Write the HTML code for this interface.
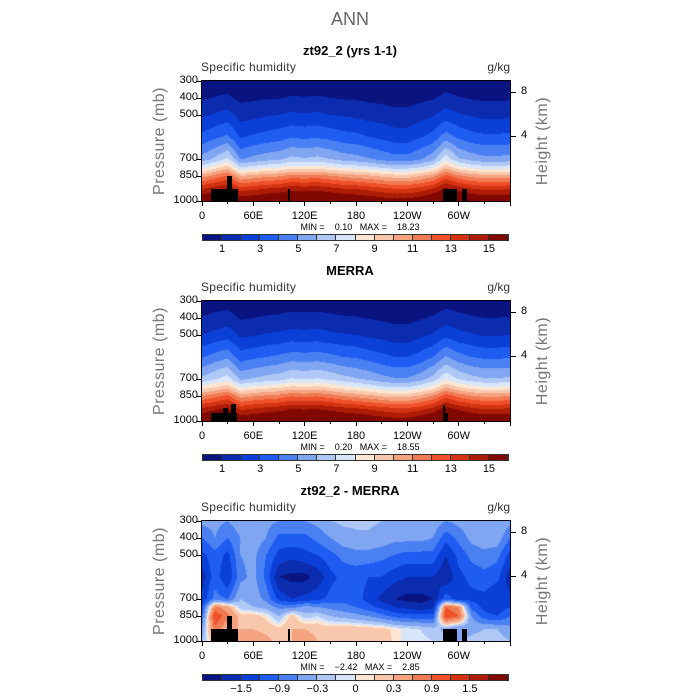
<!DOCTYPE html>
<html><head><meta charset="utf-8"><style>
body{margin:0;background:#fff;}
#root{position:relative;width:700px;height:700px;overflow:hidden;font-family:"Liberation Sans",sans-serif;color:#000;}
.t{position:absolute;white-space:nowrap;}
canvas{position:absolute;}
</style></head><body>
<div id="root">
<div class="t" style="left:0;width:700px;top:9px;text-align:center;font-size:18px;color:#666;">ANN</div>
</div>
<script>
// ---- data ----
const lons = [0,15,30,45,60,75,90,105,120,135,150,165,180,195,210,225,240,255,270,285,300,315,330,345,360];
const levels = [300,400,500,600,700,775,850,925,1000];
const model300 = [0.33,0.4,0.45,0.27,0.31,0.34,0.36,0.41,0.4,0.41,0.38,0.34,0.33,0.29,0.26,0.22,0.22,0.27,0.34,0.48,0.4,0.34,0.31,0.31,0.33];
const model400 = [0.88,1.05,1.17,0.75,0.83,0.92,0.96,1.09,1.05,1.09,1,0.92,0.88,0.79,0.71,0.62,0.62,0.75,0.92,1.26,1.05,0.92,0.83,0.83,0.88];
const model500 = [1.8,2.1,2.4,1.6,1.7,1.9,2,2.2,2.1,2.2,2,1.9,1.8,1.6,1.5,1.3,1.3,1.6,1.9,2.5,2.1,1.9,1.7,1.7,1.8];
const model600 = [3.3,3.8,4.2,2.9,3.2,3.4,3.6,3.9,3.8,3.9,3.7,3.4,3.3,3.0,2.8,2.5,2.5,2.9,3.4,4.5,3.8,3.4,3.2,3.2,3.3];
const model700 = [5.4,6.2,7.2,4.9,5.3,5.6,5.8,6.3,6.1,6.3,6.0,5.6,5.4,5.1,4.7,4.4,4.4,4.9,5.6,7.6,6.1,5.6,5.3,5.3,5.4];
const model775 = [7.4,8.4,9.4,6.9,7.3,7.6,7.8,8.4,8.2,8.4,8.0,7.6,7.4,7.1,6.7,6.4,6.4,6.9,7.6,9.6,8.2,7.6,7.3,7.3,7.4];
const model850 = [10.5,11.4,12.2,10.0,10.4,10.7,10.9,11.5,11.3,11.5,11.1,10.7,10.5,10.2,9.8,9.5,9.5,10.0,10.7,12.4,11.3,10.7,10.4,10.4,10.5];
const model925 = [14,14.6,15,13.5,13.8,14.1,14.3,14.7,14.6,14.7,14.4,14.1,14,13.7,13.4,13.1,13.1,13.5,14.1,15.3,14.6,14.1,13.8,13.8,14];
const model1000 = [16.2,16.7,17.1,15.9,16.1,16.4,16.5,16.9,16.7,16.9,16.6,16.4,16.2,16,15.7,15.5,15.5,15.9,16.4,17.4,16.7,16.4,16.1,16.1,16.2];

const obs300 = [0.4,0.48,0.54,0.33,0.37,0.41,0.43,0.49,0.48,0.49,0.46,0.41,0.4,0.35,0.31,0.26,0.26,0.33,0.41,0.58,0.48,0.41,0.37,0.37,0.4];
const obs400 = [1.06,1.26,1.4,0.9,1.0,1.1,1.15,1.31,1.26,1.31,1.2,1.1,1.06,0.95,0.85,0.74,0.74,0.9,1.1,1.5,1.26,1.1,1.0,1.0,1.06];
const obs500 = [2.0,2.3,2.6,1.8,1.9,2.1,2.2,2.4,2.3,2.4,2.2,2.1,2.0,1.8,1.65,1.45,1.45,1.75,2.1,2.75,2.3,2.1,1.9,1.9,2.0];
const obs600 = [3.9,4.4,4.8,3.5,3.8,4.0,4.2,4.5,4.4,4.5,4.3,4.0,3.9,3.6,3.3,3.0,3.0,3.4,4.0,5.1,4.4,4.0,3.8,3.8,3.9];
const obs700 = [6.2,6.9,7.5,5.8,6.1,6.4,6.6,7.1,6.9,7.1,6.8,6.4,6.1,5.8,5.4,5.1,5.1,5.6,6.4,7.8,6.9,6.4,6.1,6.1,6.2];
const obs775 = [8.3,9.0,9.6,7.8,8.2,8.5,8.7,9.2,9.0,9.2,8.8,8.3,8.0,7.6,7.2,6.9,6.9,7.5,8.3,9.9,9.0,8.4,8.1,8.1,8.3];
const obs850 = [11.0,11.6,12.3,10.5,10.9,11.2,11.4,11.9,11.7,11.9,11.5,11.0,10.7,10.3,9.9,9.6,9.6,10.3,11.1,12.6,11.7,11.1,10.8,10.8,11.0];
const obs925 = [14.2,14.8,15.2,13.8,14.1,14.4,14.6,15.0,14.9,15.0,14.7,14.4,14.2,13.9,13.6,13.3,13.3,13.7,14.3,15.5,14.8,14.3,14.0,14.0,14.2];
const obs1000 = [16.3,16.8,17.2,16.0,16.2,16.5,16.6,17.0,16.8,17.0,16.7,16.5,16.3,16.1,15.8,15.6,15.6,16.0,16.5,17.5,16.8,16.5,16.2,16.2,16.3];

const diff300 = [-0.5,-0.5,-0.6,-0.4,-0.4,-0.5,-0.6,-0.6,-0.6,-0.5,-0.3,-0.25,-0.25,-0.25,-0.3,-0.4,-0.4,-0.4,-0.4,-0.6,-0.5,-0.4,-0.3,-0.3,-0.5];
const diff400 = [-0.9,-0.6,-0.9,-0.6,-0.4,-0.6,-1.0,-1.0,-1.0,-0.8,-0.6,-0.4,-0.35,-0.35,-0.4,-0.5,-0.5,-0.5,-0.6,-1.1,-0.8,-0.5,-0.4,-0.4,-0.9];
const diff500 = [-1.3,-1.0,-1.3,-0.6,-0.5,-0.9,-1.3,-1.4,-1.3,-1.2,-1.0,-0.8,-0.7,-0.7,-0.8,-0.9,-1.0,-1.0,-1.0,-1.5,-1.1,-0.8,-0.7,-0.8,-1.3];
const diff600 = [-1.7,-1.0,-1.5,-0.7,-0.5,-1.0,-1.8,-1.9,-1.9,-1.7,-1.3,-1.1,-1.1,-1.2,-1.2,-1.4,-1.5,-1.5,-1.5,-1.8,-1.3,-1.1,-1.0,-1.1,-1.7];
const diff700 = [-1.4,-0.8,-0.9,-0.3,-0.4,-0.7,-1.3,-1.5,-1.4,-1.3,-1.1,-1.0,-1.1,-1.3,-1.6,-1.8,-1.9,-1.9,-1.8,-1.0,-1.4,-1.3,-1.3,-1.5,-1.4];
const diff775 = [-1.2,0.7,0.4,-0.2,-0.3,-0.4,-0.7,-0.7,-0.5,-0.6,-0.7,-0.8,-0.9,-1.1,-1.3,-1.5,-1.6,-1.7,-1.6,0.9,0.6,-1.0,-1.3,-1.4,-1.2];
const diff850 = [-0.9,1.2,0.7,0.2,0.2,0.05,-0.3,0.2,-0.2,-0.1,-0.3,-0.4,-0.5,-0.6,-0.8,-1.0,-1.1,-1.1,-1.1,1.2,0.9,-0.6,-1.1,-1.2,-0.9];
const diff925 = [-0.5,0.8,0.3,0.3,0.3,0.25,0.15,0.3,0.3,0.25,0.2,0.25,0.25,0.2,0.2,0.05,-0.05,-0.1,-0.2,-0.4,-0.6,-0.4,-0.3,-0.3,-0.5];
const diff1000 = [-0.3,0.3,0.3,0.35,0.4,0.35,0.25,0.3,0.4,0.3,0.3,0.3,0.25,0.3,0.3,0.05,-0.05,-0.05,-0.1,-0.2,-0.3,-0.2,-0.15,-0.15,-0.3];

const absLevels = [1,2,3,4,5,6,7,8,9,10,11,12,13,14,15];
const absLabels = ["1","3","5","7","9","11","13","15"];
const diffLevels = [-1.8,-1.5,-1.2,-0.9,-0.6,-0.3,-0.1,0,0.1,0.3,0.6,0.9,1.2,1.5,1.8];
const diffLabels = ["\u22121.5","\u22120.9","\u22120.3","0","0.3","0.9","1.5"];
const xTickLons = [0,60,120,180,240,300];
const xTickLabels = ["0","60E","120E","180","120W","60W"];
const yTickLevels = [300,400,500,700,850,1000];
const heightTicks = [8,4];
const palette = ["#0a1480","#0c2cb0","#0a40d8","#1e5cf2","#4a80f2","#80a6f2","#b0c8f6","#d8e6fa","#fde6d4","#f9c8ac","#f4a280","#f07a52","#f0502a","#d43412","#ac1c06","#800800"];
// ---- layout helpers ----
const PX=202, PW=308, PH=120;
const levY=[0,17,34,56,78,86,95,108,120];
function xScale(lon){return PX+lon/360*PW;}
function yScale(p){
  for(let i=0;i<levels.length-1;i++){ if(p>=levels[i]&&p<=levels[i+1]){const f=(p-levels[i])/(levels[i+1]-levels[i]);return levY[i]+f*(levY[i+1]-levY[i]);} }
  return p<300?0:PH;
}
const hY={8:11,4:55};
const root=document.getElementById('root');
function txt(name,s,css){const d=document.createElement('div');d.className='t';d.textContent=s;d.style.cssText=css;


root.appendChild(d);return d;}
function box(name,css){const d=document.createElement('div');d.style.cssText='position:absolute;'+css;


root.appendChild(d);return d;}
function colorIdx(v,lv){let i=0;while(i<lv.length&&v>=lv[i])i++;return i;}
function hex(c){return [parseInt(c.substr(1,2),16),parseInt(c.substr(3,2),16),parseInt(c.substr(5,2),16)];}
const palRGB=palette.map(hex);

function panel(top,title,rows,lv,minTxt,maxTxt,labels,topo,prefix){
  txt(prefix+'-title',title,`left:0;width:700px;text-align:center;top:${top-38}px;font-size:13px;font-weight:bold;`);
  txt(prefix+'-variable-label','Specific humidity',`left:201px;top:${top-21}px;font-size:12px;color:#333;letter-spacing:0.3px;`);
  txt(prefix+'-units-label','g/kg',`left:460px;width:50px;text-align:right;top:${top-21}px;font-size:12px;color:#333;`);
  const cv=document.createElement('canvas');cv.width=PW;cv.height=PH;cv.style.left=PX+'px';cv.style.top=top+'px';
  
  
  root.appendChild(cv);
  const ctx=cv.getContext('2d');const img=ctx.createImageData(PW,PH);
  for(let py=0;py<PH;py++){
    let li=0;while(li<levY.length-2&&py+0.5>levY[li+1])li++;
    const fy=Math.min(1,Math.max(0,(py+0.5-levY[li])/(levY[li+1]-levY[li])));
    for(let px=0;px<PW;px++){
      const lon=(px+0.5)/PW*360;let ci=Math.min(lons.length-2,Math.floor(lon/15));const fx=(lon-lons[ci])/15;
      const a=rows[li][ci]*(1-fx)+rows[li][ci+1]*fx, b=rows[li+1][ci]*(1-fx)+rows[li+1][ci+1]*fx;
      const v=a*(1-fy)+b*fy;const c=palRGB[colorIdx(v,lv)];const k=(py*PW+px)*4;
      img.data[k]=c[0];img.data[k+1]=c[1];img.data[k+2]=c[2];img.data[k+3]=255;
    }
  }
  ctx.putImageData(img,0,0);
  topo.forEach((t,i)=>box(prefix+'-topography-'+i,`background:#000;left:${t[0]}px;top:${top+t[1]}px;width:${t[2]}px;height:${PH-t[1]}px;`));
  box(prefix+'-plot-frame',`left:${PX-1}px;top:${top-1}px;width:${PW}px;height:${PH}px;border:1px solid #000;`);
  yTickLevels.forEach(p=>{const y=top+yScale(p);
    box(prefix+'-ytick-'+p,`left:${PX-6}px;top:${y}px;width:5px;height:1px;background:#000;`);
    txt(prefix+'-ylabel-'+p,String(p),`left:155px;width:43px;text-align:right;top:${y-7}px;font-size:11px;`);});
  heightTicks.forEach(h=>{const y=top+hY[h];
    box(prefix+'-height-tick-'+h,`left:${PX+PW}px;top:${y}px;width:6px;height:1px;background:#000;`);
    txt(prefix+'-height-label-'+h,String(h),`left:${PX+PW+11}px;top:${y-7}px;font-size:11px;`);});
  txt(prefix+'-y-axis-title','Pressure (mb)',`left:100px;width:120px;text-align:center;top:${top+51}px;font-size:16px;color:#777;letter-spacing:0.5px;transform:rotate(-90deg);`);
  txt(prefix+'-right-axis-title','Height (km)',`left:483px;width:120px;text-align:center;top:${top+51}px;font-size:16px;color:#777;letter-spacing:0.5px;transform:rotate(-90deg);`);
  for(let lon=0;lon<=360;lon+=30){const x=xScale(lon);const major=lon%60===0;
    box(prefix+'-xtick-'+lon,`left:${x-0.5}px;top:${top+PH}px;width:1px;height:${major?5:3}px;background:#000;`);}
  xTickLons.forEach((lon,i)=>txt(prefix+'-xlabel-'+i,xTickLabels[i],`left:${xScale(lon)-20}px;width:40px;text-align:center;top:${top+PH+9}px;font-size:11px;`));
  txt(prefix+'-min-max','MIN =    '+minTxt+'   MAX =    '+maxTxt,`left:280px;width:160px;text-align:center;top:${top+PH+21}px;font-size:9px;white-space:pre;`);
  const cbTop=top+154,cbX=203,cbW=305,bw=cbW/16;
  for(let i=0;i<16;i++) box(prefix+'-colorbar-box-'+i,`left:${cbX+i*bw}px;top:${cbTop}px;width:${bw}px;height:5px;background:${palette[i]};border-right:1px solid #333;box-sizing:border-box;`);
  box(prefix+'-colorbar-frame',`left:${cbX-1}px;top:${cbTop-1}px;width:${cbW}px;height:5px;border:1px solid #333;`);
  labels.forEach((s,i)=>{const b=2*i+(lv===absLevels?1:2);const x=cbX+b*bw;
    txt(prefix+'-colorbar-label-'+i,s,`left:${x-15}px;width:30px;text-align:center;top:${cbTop+8}px;font-size:11px;`);});
}
const topoModel=[[211,108,27],[227,95,5],[288,108,2],[443,108,14],[462,108,5]];
const topoObs=[[211,112,26],[223,107,5],[231,103,5],[443,112,5],[443,104,2]];
panel(81,'zt92_2 (yrs 1-1)',[model300,model400,model500,model600,model700,model775,model850,model925,model1000],absLevels,'0.10','18.23',absLabels,topoModel,'model');
panel(301,'MERRA',[obs300,obs400,obs500,obs600,obs700,obs775,obs850,obs925,obs1000],absLevels,'0.20','18.55',absLabels,topoObs,'merra');
panel(521,'zt92_2 - MERRA',[diff300,diff400,diff500,diff600,diff700,diff775,diff850,diff925,diff1000],diffLevels,'\u22122.42','2.85',diffLabels,topoModel,'diff');
</script>
</body></html>
